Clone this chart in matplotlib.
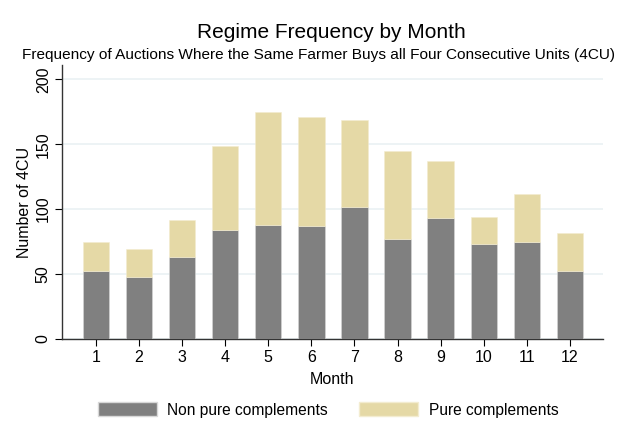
import numpy as np
from matplotlib import pyplot as plt
from matplotlib.patches import Patch

plt.rcParams['font.family'] = ['Liberation Sans', 'DejaVu Sans']

months = [1, 2, 3, 4, 5, 6, 7, 8, 9, 10, 11, 12]
totals = [75, 69, 92, 149, 175, 171, 169, 145, 137, 94, 112, 82]
non_pure = [52, 48, 63, 84, 88, 87, 102, 77, 93, 73, 75, 52]
pure = [t - n for t, n in zip(totals, non_pure)]

grey = '#808080'
tan = '#e5d9a6'

fig = plt.figure(figsize=(6.18, 4.44), dpi=100)
ax = fig.add_axes([0.1003, 0.2365, 0.8754, 0.6171])

x = np.array(months)
ax.bar(x, non_pure, width=0.61, color=grey, edgecolor='#d8d8d8', linewidth=0.4, zorder=3)
ax.bar(x, pure, width=0.61, bottom=non_pure, color=tan, edgecolor='#f3ecd0', linewidth=0.4, zorder=3)

ax.set_xlim(0.21, 12.77)
ax.set_ylim(0, 211)
ax.set_yticks([0, 50, 100, 150, 200])
ax.set_xticks(months)
ax.grid(axis='y', color='#eaf1f4', linewidth=1.2, zorder=0)
ax.spines['top'].set_visible(False)
ax.spines['right'].set_visible(False)
for s in ['left', 'bottom']:
    ax.spines[s].set_linewidth(1.0)
    ax.spines[s].set_color('#333333')
ax.tick_params(axis='y', labelsize=11.5, length=5, rotation=90, pad=3)
ax.tick_params(axis='x', labelsize=11.5, length=5, pad=3)
for lbl in ax.get_yticklabels():
    lbl.set_va('center')
ax.set_ylabel('Number of 4CU', fontsize=11.5, labelpad=3)
ax.set_xlabel('Month', fontsize=11.5, labelpad=5)

fig.text(0.537, 0.926, 'Regime Frequency by Month', ha='center', va='center', fontsize=15)
fig.text(0.515, 0.877, 'Frequency of Auctions Where the Same Farmer Buys all Four Consecutive Units (4CU)',
         ha='center', va='center', fontsize=11.1)

handles = [Patch(facecolor=grey, edgecolor='#d8d8d8'), Patch(facecolor=tan, edgecolor='#f3ecd0')]
fig.legend(handles, ['Non pure complements', 'Pure complements'], loc='center',
           bbox_to_anchor=(0.531, 0.077), ncol=2, frameon=False, fontsize=11.2,
           handlelength=3.78, handleheight=1.05, handletextpad=0.7, columnspacing=2.0)

fig.savefig('out.png', dpi=100)
